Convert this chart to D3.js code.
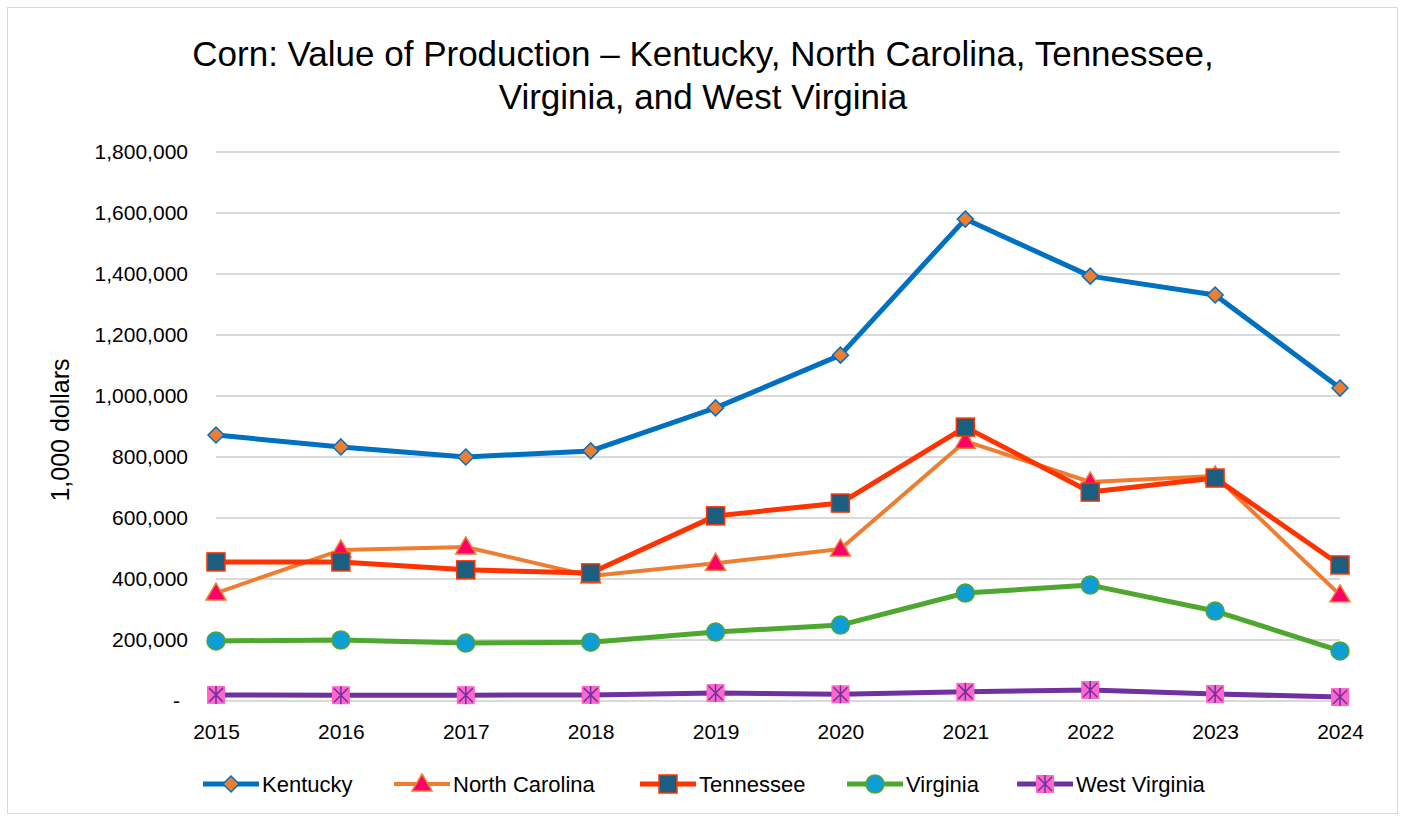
<!DOCTYPE html>
<html>
<head>
<meta charset="utf-8">
<script src="https://cdn.jsdelivr.net/npm/d3@7"></script>
<style>
  body { margin: 0; background: #fff; }
  text { font-family: "Liberation Sans", Arial, sans-serif; fill: #000; }
</style>
</head>
<body>
<script>
// Data (1,000 dollars).
var years         = ["2015", "2016", "2017", "2018", "2019", "2020", "2021", "2022", "2023", "2024"];
var kentucky      = [872000, 833000, 800000, 820000, 961000, 1134000, 1580000, 1393000, 1331000, 1026000];
var northCarolina = [354000, 495000, 505000, 410000, 452000, 498000, 852000, 718000, 738000, 348000];
var tennessee     = [456000, 456000, 430000, 420000, 607000, 649000, 898000, 685000, 731000, 446000];
var virginia      = [197000, 200000, 190000, 193000, 226000, 249000, 354000, 380000, 295000, 164000];
var westVirginia  = [20000, 19000, 19000, 20000, 26000, 22000, 30000, 36000, 23000, 13000];
var yTicks        = [0, 200000, 400000, 600000, 800000, 1000000, 1200000, 1400000, 1600000, 1800000];

var width = 1405, height = 816;

var series = [
    { name: "Kentucky",       values: kentucky,      line: "#0070C0", lw: 5, marker: "diamond",  fill: "#ED7D31", stroke: "#0070C0", legendX: 203 },
    { name: "North Carolina", values: northCarolina, line: "#ED7D31", lw: 4, marker: "triangle", fill: "#FF0066", stroke: "#ED7D31", legendX: 394 },
    { name: "Tennessee",      values: tennessee,     line: "#FF3300", lw: 5, marker: "square",   fill: "#1B5E80", stroke: "#FF3300", legendX: 640 },
    { name: "Virginia",       values: virginia,      line: "#4EA72E", lw: 5, marker: "circle",   fill: "#0E9ED5", stroke: "#4EA72E", legendX: 847 },
    { name: "West Virginia",  values: westVirginia,  line: "#7030A0", lw: 5, marker: "star",     fill: "#FF66CC", stroke: "#7030A0", legendX: 1017 }
];

var svg = d3.select("body")
    .append("svg")
    .attr("width", width)
    .attr("height", height);

// Chart border.
svg.append("rect")
    .attr("x", 7.5).attr("y", 7.5)
    .attr("width", 1390).attr("height", 806)
    .attr("fill", "#fff")
    .attr("stroke", "#d9d9d9");

var x = d3.scalePoint().domain(years).range([216, 1340]);
var y = d3.scaleLinear().domain([0, 1800000]).range([701, 152]);

// Gridlines.
svg.append("g")
    .selectAll("line")
    .data(yTicks)
  .enter()
    .append("line")
    .attr("x1", 216).attr("x2", 1340)
    .attr("y1", function(d) { return y(d); })
    .attr("y2", function(d) { return y(d); })
    .attr("stroke", "#d9d9d9")
    .attr("stroke-width", 2);

// Y axis labels.
var fmt = d3.format(",");
var yAxis = svg.append("g")
    .attr("transform", "translate(188,0)")
    .call(d3.axisLeft(y).tickValues(yTicks).tickSize(0).tickPadding(0)
        .tickFormat(function(d) { return d === 0 ? "-" : fmt(d); }));
yAxis.select(".domain").remove();
yAxis.selectAll("text")
    .attr("font-size", "21px")
    .attr("fill", "#000")
    .style("font-family", "'Liberation Sans', Arial, sans-serif")
    .attr("dx", function(d) { return d === 0 ? -8 : 0; });

// X axis labels.
var xAxis = svg.append("g")
    .attr("transform", "translate(0,724)")
    .call(d3.axisBottom(x).tickSize(0).tickPadding(0));
xAxis.select(".domain").remove();
xAxis.selectAll("text")
    .attr("font-size", "21px")
    .attr("fill", "#000")
    .style("font-family", "'Liberation Sans', Arial, sans-serif");

// Axis title.
svg.append("text")
    .attr("transform", "translate(69,430) rotate(-90)")
    .attr("text-anchor", "middle")
    .attr("font-size", "25px")
    .text("1,000 dollars");

// Title.
svg.append("text")
    .attr("x", 703).attr("y", 66)
    .attr("text-anchor", "middle")
    .attr("font-size", "35px")
    .text("Corn: Value of Production \u2013 Kentucky, North Carolina, Tennessee,");
svg.append("text")
    .attr("x", 703).attr("y", 109)
    .attr("text-anchor", "middle")
    .attr("font-size", "35px")
    .text("Virginia, and West Virginia");

// Marker drawing.
function drawMarker(g, s, cx, cy) {
    if (s.marker === "diamond") {
        g.append("path")
            .attr("d", "M" + cx + "," + (cy - 8) + "L" + (cx + 8) + "," + cy + "L" + cx + "," + (cy + 8) + "L" + (cx - 8) + "," + cy + "Z")
            .attr("fill", s.fill).attr("stroke", s.stroke).attr("stroke-width", 1.5);
    } else if (s.marker === "triangle") {
        g.append("path")
            .attr("d", "M" + cx + "," + (cy - 10) + "L" + (cx + 10) + "," + (cy + 7) + "L" + (cx - 10) + "," + (cy + 7) + "Z")
            .attr("fill", s.fill).attr("stroke", s.stroke).attr("stroke-width", 1.5);
    } else if (s.marker === "square") {
        g.append("rect")
            .attr("x", cx - 9).attr("y", cy - 9)
            .attr("width", 18).attr("height", 18)
            .attr("fill", s.fill).attr("stroke", s.stroke).attr("stroke-width", 1.5);
    } else if (s.marker === "circle") {
        g.append("circle")
            .attr("cx", cx).attr("cy", cy).attr("r", 9)
            .attr("fill", s.fill).attr("stroke", s.stroke).attr("stroke-width", 1.5);
    } else if (s.marker === "star") {
        g.append("rect")
            .attr("x", cx - 9).attr("y", cy - 9)
            .attr("width", 18).attr("height", 18)
            .attr("fill", s.fill);
        g.append("path")
            .attr("d", "M" + cx + "," + (cy - 9) + "V" + (cy + 9) +
                "M" + (cx - 7) + "," + (cy - 7) + "L" + (cx + 7) + "," + (cy + 7) +
                "M" + (cx + 7) + "," + (cy - 7) + "L" + (cx - 7) + "," + (cy + 7))
            .attr("stroke", s.stroke).attr("stroke-width", 1.5).attr("fill", "none");
    }
}

var line = d3.line()
    .x(function(d, i) { return x(years[i]); })
    .y(function(d) { return y(d); });

series.forEach(function(s) {
    var g = svg.append("g");
    g.append("path")
        .datum(s.values)
        .attr("d", line)
        .attr("fill", "none")
        .attr("stroke", s.line)
        .attr("stroke-width", s.lw)
        .attr("stroke-linejoin", "round");
    s.values.forEach(function(v, i) {
        drawMarker(g, s, x(years[i]), y(v));
    });
});

// Legend.
series.forEach(function(s) {
    var g = svg.append("g");
    g.append("line")
        .attr("x1", s.legendX).attr("x2", s.legendX + 56)
        .attr("y1", 784).attr("y2", 784)
        .attr("stroke", s.line)
        .attr("stroke-width", s.lw);
    drawMarker(g, s, s.legendX + 28, 784);
    g.append("text")
        .attr("x", s.legendX + 59).attr("y", 792)
        .attr("font-size", "22px")
        .text(s.name);
});
</script>
</body>
</html>
